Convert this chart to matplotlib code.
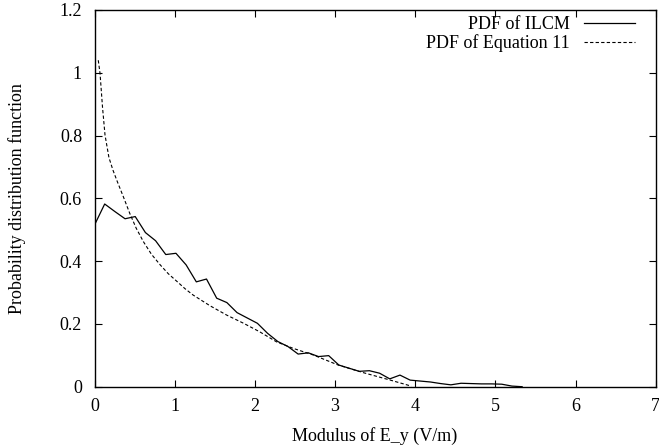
import numpy as np
import matplotlib
matplotlib.use("Agg")
import matplotlib.pyplot as plt
from matplotlib.ticker import FuncFormatter

# histogram-based PDF (ILCM), bin centres spaced ~0.127 V/m
ilcm_x = [0.0, 0.127, 0.254, 0.381, 0.508, 0.635, 0.762, 0.889, 1.016, 1.143,
          1.270, 1.397, 1.524, 1.651, 1.778, 1.905, 2.032, 2.159, 2.286, 2.413,
          2.540, 2.667, 2.794, 2.921, 3.048, 3.175, 3.302, 3.429, 3.556, 3.683,
          3.810, 3.937, 4.064, 4.191, 4.318, 4.445, 4.572, 4.699, 4.826, 4.953,
          5.080, 5.207, 5.334]
ilcm_y = [0.515, 0.582, 0.558, 0.535, 0.542, 0.491, 0.465, 0.421, 0.425, 0.388,
          0.334, 0.343, 0.282, 0.268, 0.236, 0.219, 0.202, 0.170, 0.144, 0.128,
          0.104, 0.108, 0.096, 0.099, 0.069, 0.059, 0.049, 0.051, 0.043, 0.025,
          0.037, 0.021, 0.018, 0.015, 0.010, 0.006, 0.011, 0.010, 0.009, 0.009,
          0.008, 0.002, 0.0]

# Equation 11 curve
eq_x = [0.047, 0.069, 0.10, 0.131, 0.18, 0.23, 0.285, 0.36, 0.44, 0.52, 0.61,
        0.71, 0.82, 0.92, 1.03, 1.13, 1.23, 1.44, 1.65, 1.86, 2.06, 2.27, 2.48,
        2.73, 3.04, 3.35, 3.69, 3.95]
eq_y = [1.04, 0.998, 0.89, 0.802, 0.73, 0.69, 0.653, 0.605, 0.552, 0.505, 0.462,
        0.422, 0.388, 0.360, 0.335, 0.312, 0.292, 0.258, 0.228, 0.202, 0.175,
        0.143, 0.122, 0.101, 0.069, 0.045, 0.021, 0.002]

plt.rcParams['font.family'] = ['Liberation Serif', 'DejaVu Serif']
plt.rcParams['font.size'] = 13

fig = plt.figure(figsize=(6.59, 4.48), dpi=100)
ax = fig.add_axes([0.1434, 0.1368, 0.8516, 0.8409])

ax.plot(ilcm_x, ilcm_y, color='black', lw=0.9, label='PDF of ILCM')
ax.plot(eq_x, eq_y, color='black', lw=0.8, dashes=(3, 2), label='PDF of Equation 11')

ax.set_xlim(0, 7)
ax.set_ylim(0, 1.2)
ax.set_xticks(range(0, 8))
ax.set_yticks([0, 0.2, 0.4, 0.6, 0.8, 1.0, 1.2])
ax.yaxis.set_major_formatter(FuncFormatter(lambda v, p: '%g' % round(v, 2)))
ax.tick_params(direction='in', top=True, right=True, length=5, width=0.8, labelsize=13)
ax.tick_params(axis='x', pad=8)
ax.tick_params(axis='y', pad=9)
for s in ax.spines.values():
    s.set_linewidth(1.0)

ax.set_xlabel('Modulus of E_y (V/m)', fontsize=13, labelpad=9)
ax.set_ylabel('Probability distribution function', fontsize=13, labelpad=24)

ax.legend(loc='upper right', frameon=False, markerfirst=False, handlelength=2.8,
          handletextpad=0.8, labelspacing=0.05, fontsize=13,
          borderaxespad=0.3, bbox_to_anchor=(0.985, 1.017))

fig.savefig('out.png', dpi=100)
